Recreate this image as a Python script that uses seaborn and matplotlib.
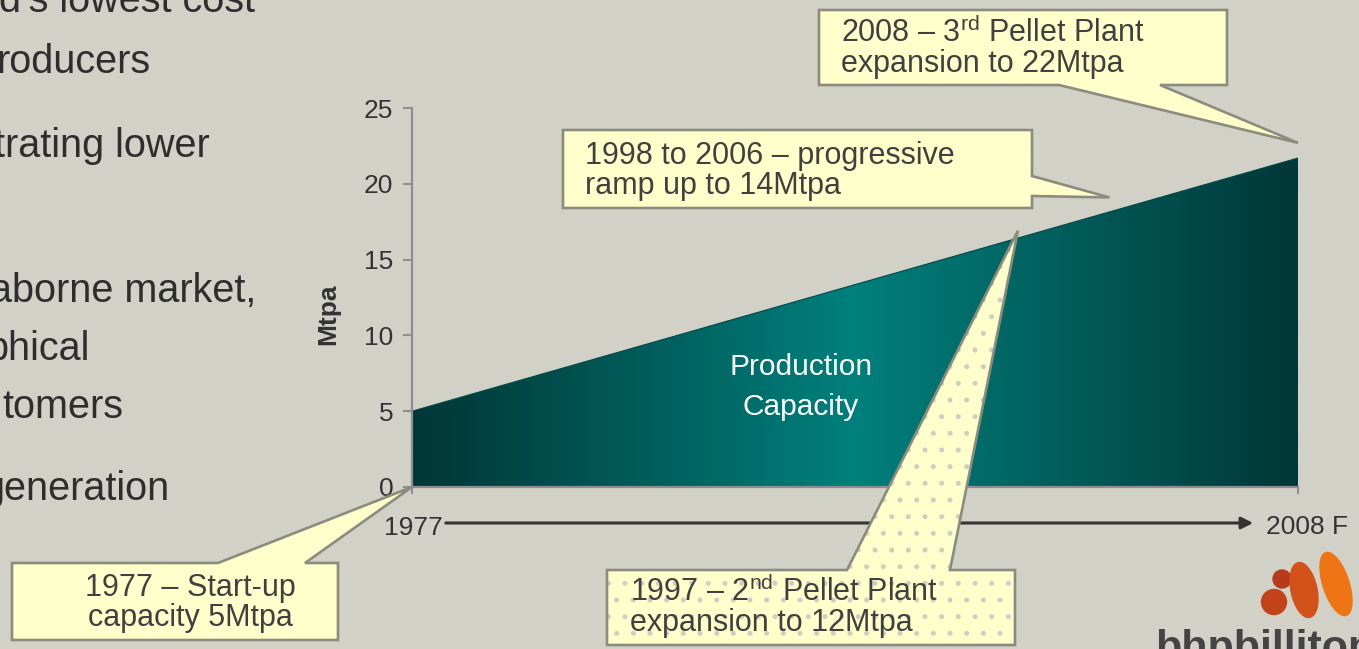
import numpy as np
import pandas as pd
import matplotlib
matplotlib.use("Agg")
import matplotlib.pyplot as plt
import matplotlib.transforms as mtransforms
import seaborn as sns
from matplotlib.patches import Polygon, Ellipse, Circle, FancyArrowPatch
from matplotlib.colors import LinearSegmentedColormap

# ---------------- data ----------------
years = [1977, 2008]
capacity = [5.0, 21.7]
y_ticks = [0, 5, 10, 15, 20, 25]
x_labels = ["1977", "2008 F"]
y_label = "Mtpa"
area_label = "Production\nCapacity"
bullet_lines = ["d's lowest cost", "roducers", "trating lower", "aborne market,",
                "phical", "tomers", "generation"]
callout_texts = [
    "1977 \u2013 Start-up\ncapacity 5Mtpa",
    "2008 \u2013 3$^{\\mathrm{rd}}$ Pellet Plant\nexpansion to 22Mtpa",
    "1998 to 2006 \u2013 progressive\nramp up to 14Mtpa",
    "1997 \u2013 2$^{\\mathrm{nd}}$ Pellet Plant\nexpansion to 12Mtpa",
]
# annotation targets (year, Mtpa)
callout_targets = [(1977, 0.0), (2008, 22.7), (2001.4, 19.1), (1998.2, 16.9)]

# ---------------- style ----------------
W, H = 1359, 649
BG = "#D1D1C7"
sns.set_theme(style="white")
plt.rcParams["font.family"] = ["Liberation Sans", "DejaVu Sans"]
plt.rcParams["mathtext.fontset"] = "custom"
plt.rcParams["mathtext.rm"] = "Liberation Sans"
plt.rcParams["mathtext.it"] = "Liberation Sans:italic"
plt.rcParams["mathtext.bf"] = "Liberation Sans:bold"
plt.rcParams["hatch.linewidth"] = 1.2

fig = plt.figure(figsize=(W / 100, H / 100), dpi=100, facecolor=BG)
T = mtransforms.Affine2D().scale(1 / W, -1 / H).translate(0, 1) + fig.transFigure

ax = fig.add_axes([412 / W, 1 - 487 / H, 886 / W, 379 / H])
ax.set_facecolor("none")

df = pd.DataFrame({"year": years, "capacity": capacity})
sns.lineplot(data=df, x="year", y="capacity", ax=ax, color="#004848", lw=0.8, zorder=3)
fill = ax.fill_between(df["year"], 0, df["capacity"], color="none", lw=0)
cmap = LinearSegmentedColormap.from_list("teal", ["#003636", "#00807C", "#003737"])
grad = np.linspace(0, 1, 600)[None, :]
im = ax.imshow(grad, cmap=cmap, extent=[years[0], years[-1], 0, y_ticks[-1]],
               aspect="auto", origin="lower", zorder=2, interpolation="bicubic")
im.set_clip_path(fill.get_paths()[0], ax.transData)

ax.set_xlim(years[0], years[-1])
ax.set_ylim(y_ticks[0], y_ticks[-1])
ax.set_yticks(y_ticks)
ax.set_yticklabels([str(v) for v in y_ticks])
ax.set_xticks(years)
ax.set_xticklabels(["", ""])
for s in ["top", "right"]:
    ax.spines[s].set_visible(False)
for s in ["left", "bottom"]:
    ax.spines[s].set_color("#8E8E8E")
    ax.spines[s].set_linewidth(1.6)
    ax.spines[s].set_zorder(4)
ax.tick_params(axis="y", which="both", left=True, length=6.5, width=1.5, color="#8E8E8E",
               labelsize=19, labelcolor="#333333", pad=7)
ax.tick_params(axis="x", which="both", bottom=True, length=5, width=1.5, color="#8E8E8E")
ax.set_xlabel("")
ax.set_ylabel(y_label, fontsize=19, fontweight="bold", color="#333333")
ax.yaxis.set_label_coords(-0.081, 0.455)

ax.text(1990.6, 6.6, area_label, color="white", fontsize=21.5,
        ha="center", va="center", linespacing=1.55, zorder=5)

# x-axis labels and arrow
fig.text(413 / W, 1 - 528 / H, x_labels[0], ha="center", va="center", fontsize=19, color="#333333")
fig.text(1266 / W, 1 - 527 / H, x_labels[1], ha="left", va="center", fontsize=19, color="#333333")
fig.add_artist(FancyArrowPatch((443, 523), (1256, 523), transform=T,
               arrowstyle="-|>,head_length=7,head_width=3.5", color="#333333", lw=2.2,
               mutation_scale=1))

# ---------------- left bullet text (cut off at the slide edge) ----------------
bullet_pos = [(255, 12), (150, 73), (210, 157), (256, 302), (90, 360), (123, 418), (170, 500)]
for t, (xr, yb) in zip(bullet_lines, bullet_pos):
    fig.text(xr / W, 1 - yb / H, t, ha="right", va="baseline", fontsize=28.5, color="#2e2e2e")

# ---------------- callouts ----------------
def to_px(x, y):
    d = ax.transData.transform((x, y))
    f = fig.transFigure.inverted().transform(d)
    return (f[0] * W, (1 - f[1]) * H)

tips = [to_px(*p) for p in callout_targets]
shapes = [
    [(12, 563), (218, 563), tips[0], (305, 563), (338, 563), (338, 640), (12, 640)],
    [(819, 10), (1227, 10), (1227, 85), (1160, 85), tips[1], (1059, 85), (819, 85)],
    [(563, 130), (1032, 130), (1032, 176), tips[2], (1032, 196), (1032, 208), (563, 208)],
    [(607, 570), (847, 570), tips[3], (950, 570), (1015, 570), (1015, 645), (607, 645)],
]
YEL = "#FFFFCC"
EDGE = "#8C8C7E"
for i, pts in enumerate(shapes):
    if i == 3:
        fig.add_artist(Polygon(pts, closed=True, transform=T, facecolor=YEL,
                               edgecolor="#CFCFC0", lw=0, hatch=".", zorder=5))
    else:
        fig.add_artist(Polygon(pts, closed=True, transform=T, facecolor=YEL,
                               edgecolor="none", zorder=5))
    fig.add_artist(Polygon(pts, closed=True, transform=T, fill=False,
                           edgecolor=EDGE, lw=1.9, zorder=6, joinstyle="miter"))

text_pos = [((190, 603), "center"), ((841, 48), "left"), ((585, 171), "left"), ((630, 607), "left")]
for t, ((x, y), ha) in zip(callout_texts, text_pos):
    fig.text(x / W, 1 - y / H, t, ha=ha, va="center", fontsize=22, color="#404040",
             linespacing=1.02, zorder=7, multialignment="center" if ha == "center" else "left")

# ---------------- logo ----------------
fig.add_artist(Circle((1282, 579), 9, transform=T, color="#B83A1C", zorder=5))
fig.add_artist(Circle((1274, 602), 12.5, transform=T, color="#C2431A", zorder=5))
fig.add_artist(Ellipse((1304, 590), 26, 56, angle=-12, transform=T, color="#D2521A", zorder=5))
fig.add_artist(Ellipse((1336, 584), 26, 66, angle=-18, transform=T, color="#EE7414", zorder=5))
fig.text(1155 / W, 1 - 629 / H, "bhpbilliton", ha="left", va="top", fontsize=31,
         fontweight="bold", color="#444444")

fig.savefig("out.png", dpi=100, facecolor=BG)
